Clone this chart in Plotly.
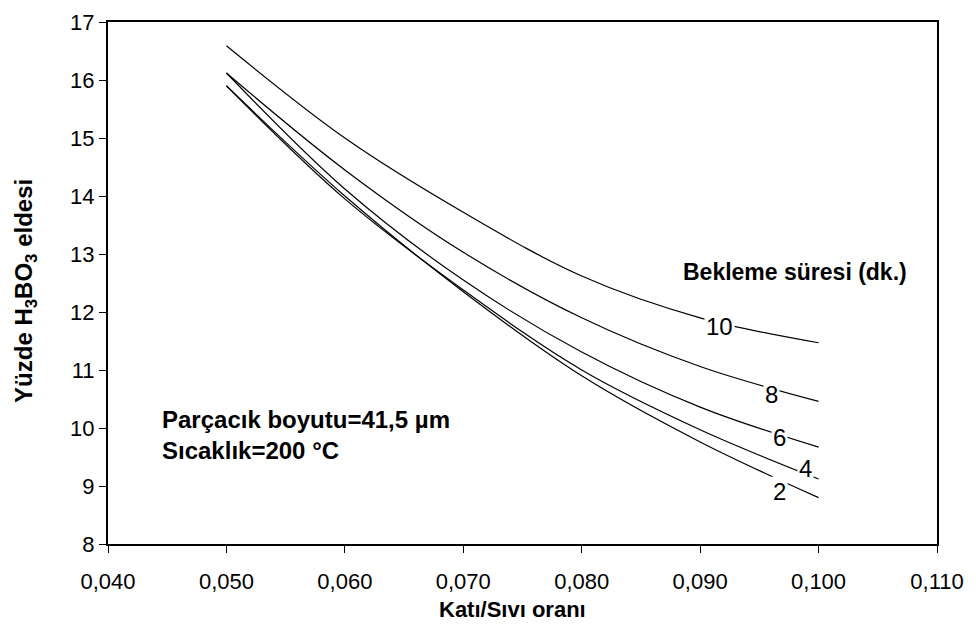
import plotly.graph_objects as go

# Katı/Sıvı oranı (x) values
x_vals = [0.050, 0.060, 0.070, 0.080, 0.090, 0.100]

# Yüzde H3BO3 eldesi for each bekleme süresi (dk.)
y_10 = [16.59, 15.00, 13.72, 12.62, 11.90, 11.47]
y_8 = [16.12, 14.45, 13.03, 11.90, 11.06, 10.46]
y_6 = [16.12, 14.12, 12.55, 11.31, 10.36, 9.67]
y_4 = [15.90, 13.95, 12.38, 11.00, 9.97, 9.12]
y_2 = [15.90, 14.00, 12.35, 10.90, 9.76, 8.80]

series_names = ["10", "8", "6", "4", "2"]
series_vals = [y_10, y_8, y_6, y_4, y_2]

# curve label positions (data coords)
label_x = [0.0916, 0.0960, 0.0967, 0.0989, 0.0967]
label_y = [11.75, 10.57, 9.84, 9.31, 8.90]

x_ticks = [0.040, 0.050, 0.060, 0.070, 0.080, 0.090, 0.100, 0.110]
y_ticks = [8, 9, 10, 11, 12, 13, 14, 15, 16, 17]

FONT = "Liberation Sans, Arial, sans-serif"

fig = go.Figure()
for name, ys in zip(series_names, series_vals):
    fig.add_trace(go.Scatter(
        x=x_vals, y=ys, mode="lines", name=name,
        line=dict(color="black", width=1.2, shape="spline", smoothing=1.0),
        showlegend=False, hoverinfo="x+y",
    ))

annotations = []
for name, lx, ly in zip(series_names, label_x, label_y):
    annotations.append(dict(
        x=lx, y=ly, xref="x", yref="y", text=name, showarrow=False,
        font=dict(family=FONT, size=24, color="black"),
        bgcolor="white", borderpad=1,
    ))

annotations.append(dict(
    x=0.0980, y=12.69, xref="x", yref="y", text="<b>Bekleme süresi (dk.)</b>",
    showarrow=False, font=dict(family=FONT, size=23, color="black"),
))
annotations.append(dict(
    x=0.0444, y=10.14, xref="x", yref="y", xanchor="left",
    text="<b>Parçacık boyutu=41,5 µm</b>",
    showarrow=False, font=dict(family=FONT, size=24, color="black"),
))
annotations.append(dict(
    x=0.0444, y=9.61, xref="x", yref="y", xanchor="left",
    text="<b>Sıcaklık=200 °C</b>",
    showarrow=False, font=dict(family=FONT, size=24, color="black"),
))
# axis titles
annotations.append(dict(
    x=0.4885, y=-0.1264, xref="paper", yref="paper",
    xanchor="center", yanchor="middle",
    text="<b>Katı/Sıvı oranı</b>", showarrow=False,
    font=dict(family=FONT, size=22, color="black"),
))
annotations.append(dict(
    x=-0.099, y=0.4847, xref="paper", yref="paper", textangle=-90,
    xanchor="center", yanchor="middle",
    text="<b>Yüzde H<sub>3</sub>BO<sub>3</sub> eldesi</b>", showarrow=False,
    font=dict(family=FONT, size=24, color="black"),
))

fig.update_layout(
    width=976, height=629,
    margin=dict(l=100, r=47, t=14, b=93),
    paper_bgcolor="white", plot_bgcolor="white",
    separators=",.",
    font=dict(family=FONT, size=22, color="black"),
    annotations=annotations,
)
fig.update_xaxes(
    range=[0.040, 0.110], tickvals=x_ticks, tickformat=".3f",
    showgrid=False, zeroline=False, automargin=False,
    showline=True, linecolor="black", linewidth=2, mirror=True,
    ticks="outside", ticklen=7, tickcolor="black", tickwidth=1,
    ticklabelstandoff=10, ticklabeloverflow="allow",
    tickfont=dict(family=FONT, size=22, color="black"),
)
fig.update_yaxes(
    range=[8, 17], tickvals=y_ticks,
    showgrid=False, zeroline=False, automargin=False,
    showline=True, linecolor="black", linewidth=2, mirror=True,
    ticks="outside", ticklen=7, tickcolor="black", tickwidth=1,
    ticklabeloverflow="allow",
    tickfont=dict(family=FONT, size=22, color="black"),
)

fig.write_html("out.html")
